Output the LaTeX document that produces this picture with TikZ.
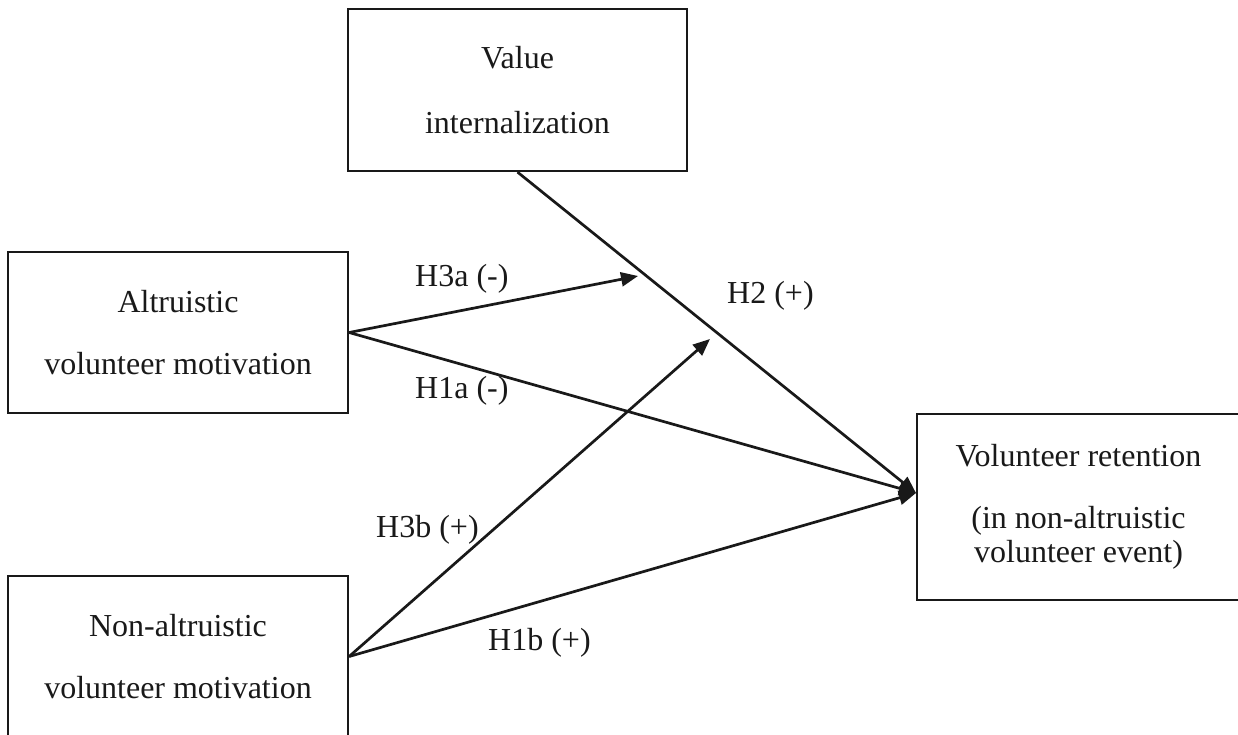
\documentclass[tikz,border=0pt]{standalone}
\usepackage{fontspec}
\setmainfont{Liberation Serif}
\usetikzlibrary{arrows.meta}
\definecolor{ink}{RGB}{25,25,25}
\begin{document}
\begin{tikzpicture}[x=1pt,y=-1pt,
  box/.style={draw=ink, line width=2.2pt, rectangle, inner sep=0pt, align=center,
    font=\fontsize{32}{62}\selectfont, text=ink},
  conn/.style={draw=ink, line width=2.7pt, -{Triangle[length=17pt,width=14pt]}},
  lab/.style={anchor=base west, inner sep=0pt, font=\fontsize{32}{36}\selectfont, text=ink}]
\clip (0,0) rectangle (1238,734);
\fill[white] (0,0) rectangle (1238,734);
\node[box, minimum width=339pt, minimum height=162pt] (val) at (517.5,90) {Value\\[3pt]internalization};
\node[box, minimum width=340pt, minimum height=161pt] (alt) at (178,332.5) {Altruistic\\volunteer motivation};
\node[box, minimum width=340pt, minimum height=161pt] (non) at (178,656.5) {Non-altruistic\\volunteer motivation};
\node[box, minimum width=323pt, minimum height=186pt, font=\fontsize{32}{34}\selectfont] (ret) at (1078.5,507)
  {Volunteer retention\\[28pt](in non-altruistic\\volunteer event)};
\coordinate (rin) at (916,493);
\coordinate (t3a) at (638,276);
\coordinate (t3b) at (710,339);
\draw[conn] (val.south) -- (rin);
\draw[conn] (alt.east) -- (t3a);
\draw[conn] (alt.east) -- (rin);
\draw[conn] (non.east) -- (t3b);
\draw[conn] (non.east) -- (rin);
\node[lab] (l3a) at (415,286) {H3a (-)};
\node[lab] (l1a) at (415,398) {H1a (-)};
\node[lab] (l3b) at (376,537) {H3b (+)};
\node[lab] (l1b) at (488,650) {H1b (+)};
\node[lab] (l2) at (727,303) {H2 (+)};
\end{tikzpicture}
\end{document}
